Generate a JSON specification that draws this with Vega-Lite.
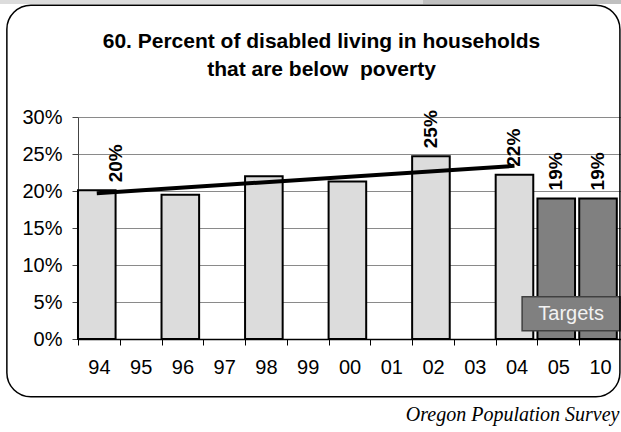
{
  "$schema": "https://vega.github.io/schema/vega-lite/v6.json",
  "width": 543,
  "height": 222,
  "autosize": {"type": "none"},
  "padding": {"left": 78, "top": 117, "right": 0, "bottom": 93},
  "background": "white",
  "title": {
    "text": ["60. Percent of disabled living in households", "that are below\u00a0 poverty"],
    "font": "Liberation Sans",
    "fontSize": 21,
    "fontWeight": "bold",
    "color": "black",
    "anchor": "middle",
    "frame": "group",
    "dx": -28,
    "offset": 0,
    "dy": 80,
    "lineHeight": 28
  },
  "config": {"view": {"stroke": null}, "font": "Liberation Sans"},
  "layer": [
    {
      "data": {
        "values": [
          {"year": "94", "value": 0.201, "type": "Actual", "showLabel": true},
          {"year": "96", "value": 0.195, "type": "Actual", "showLabel": false},
          {"year": "98", "value": 0.220, "type": "Actual", "showLabel": false},
          {"year": "00", "value": 0.213, "type": "Actual", "showLabel": false},
          {"year": "02", "value": 0.247, "type": "Actual", "showLabel": true},
          {"year": "04", "value": 0.222, "type": "Actual", "showLabel": true},
          {"year": "05", "value": 0.190, "type": "Target", "showLabel": true},
          {"year": "10", "value": 0.190, "type": "Target", "showLabel": true}
        ]
      },
      "layer": [
        {
          "mark": {"type": "bar", "width": {"band": 0.9}, "xOffset": -2.1, "x2Offset": -2.1, "stroke": "black", "strokeWidth": 2},
          "encoding": {
            "x": {
              "field": "year",
              "type": "nominal",
              "sort": null,
              "scale": {"domain": ["94", "95", "96", "97", "98", "99", "00", "01", "02", "03", "04", "05", "10"], "paddingInner": 0, "paddingOuter": 0},
              "axis": {
                "labelAngle": 0,
                "labelFontSize": 20,
                "labelColor": "black",
                "labelPadding": 12,
                "tickBand": "extent",
                "tickSize": 6,
                "tickColor": "black",
                "domainColor": "black",
                "domainWidth": 1.5,
                "title": "Oregon Population Survey",
                "titleFont": "Liberation Serif",
                "titleFontStyle": "italic",
                "titleFontWeight": "normal",
                "titleFontSize": 20,
                "titleColor": "black",
                "titleAnchor": "end",
                "titleAlign": "right",
                "titleBaseline": "alphabetic",
                "titleX": 541,
                "titleY": 81
              }
            },
            "y": {
              "field": "value",
              "type": "quantitative",
              "scale": {"domain": [0, 0.3], "nice": false},
              "axis": {
                "values": [0, 0.05, 0.1, 0.15, 0.2, 0.25, 0.3],
                "tickCount": 12,
                "format": ".0%",
                "title": null,
                "grid": true,
                "gridColor": "#8a8a8a",
                "labelFontSize": 20,
                "labelColor": "black",
                "labelPadding": 10,
                "tickSize": 6,
                "tickColor": "#444",
                "domainColor": "#444"
              }
            },
            "color": {
              "field": "type",
              "type": "nominal",
              "scale": {"domain": ["Actual", "Target"], "range": ["#dcdcdc", "#808080"]},
              "legend": null
            }
          }
        },
        {
          "data": {"values": [{"year": "94", "trend": 0.197}, {"year": "04", "trend": 0.234}]},
          "mark": {"type": "line", "color": "black", "strokeWidth": 4, "xOffset": -2.1},
          "encoding": {
            "x": {"field": "year", "type": "nominal", "sort": null},
            "y": {"field": "trend", "type": "quantitative"}
          }
        },
        {
          "transform": [{"filter": "datum.showLabel && datum.year != '94'"}],
          "mark": {"type": "text", "angle": 270, "align": "left", "baseline": "middle", "dx": 8, "xOffset": -2.1, "fontSize": 19, "fontWeight": "bold", "color": "black"},
          "encoding": {
            "x": {"field": "year", "type": "nominal", "sort": null},
            "y": {"field": "value", "type": "quantitative"},
            "text": {"field": "value", "type": "quantitative", "format": ".0%"}
          }
        },
        {
          "transform": [{"filter": "datum.year == '94'"}],
          "mark": {"type": "text", "angle": 270, "align": "left", "baseline": "middle", "dx": 8, "dy": 19.5, "xOffset": -2.1, "fontSize": 19, "fontWeight": "bold", "color": "black"},
          "encoding": {
            "x": {"field": "year", "type": "nominal", "sort": null},
            "y": {"field": "value", "type": "quantitative"},
            "text": {"field": "value", "type": "quantitative", "format": ".0%"}
          }
        },
        {
          "data": {"values": [{"label": "Targets"}]},
          "mark": {"type": "bar", "width": 98, "xOffset": -29, "fill": "#808080", "stroke": "#404040", "strokeWidth": 1.5},
          "encoding": {
            "x": {"datum": "10", "type": "nominal"},
            "y": {"datum": 0.057, "type": "quantitative"},
            "y2": {"datum": 0.011}
          }
        },
        {
          "data": {"values": [{"label": "Targets"}]},
          "mark": {"type": "text", "xOffset": -29, "align": "center", "baseline": "middle", "fontSize": 20, "color": "#f2f2f2"},
          "encoding": {
            "x": {"datum": "10", "type": "nominal"},
            "y": {"datum": 0.034, "type": "quantitative"},
            "text": {"field": "label", "type": "nominal"}
          }
        }
      ]
    },
    {
      "data": {"values": [{}]},
      "layer": [
        {
          "mark": {"type": "rect", "fill": "#dcdcdc"},
          "encoding": {
            "x": {"datum": -0.1437, "type": "quantitative", "scale": {"domain": [0, 1]}, "axis": null},
            "x2": {"datum": 0.6354},
            "y": {"datum": 0.4581, "type": "quantitative", "scale": {"domain": [0, 0.3], "nice": false, "zero": false}, "axis": null},
            "y2": {"datum": 0.4527}
          }
        },
        {
          "mark": {"type": "rect", "fill": "#c0c0c0"},
          "encoding": {
            "x": {"datum": 0.6354, "type": "quantitative"},
            "x2": {"datum": 1.0},
            "y": {"datum": 0.4581, "type": "quantitative"},
            "y2": {"datum": 0.4527}
          }
        },
        {
          "mark": {"type": "rect", "fill": "transparent", "stroke": "black", "strokeWidth": 1.5, "cornerRadius": 24},
          "encoding": {
            "x": {"datum": -0.131, "type": "quantitative"},
            "x2": {"datum": 0.998},
            "y": {"datum": 0.451, "type": "quantitative"},
            "y2": {"datum": -0.078}
          }
        }
      ]
    }
  ],
  "resolve": {"scale": {"x": "independent", "y": "independent"}, "axis": {"x": "independent", "y": "independent"}}
}
